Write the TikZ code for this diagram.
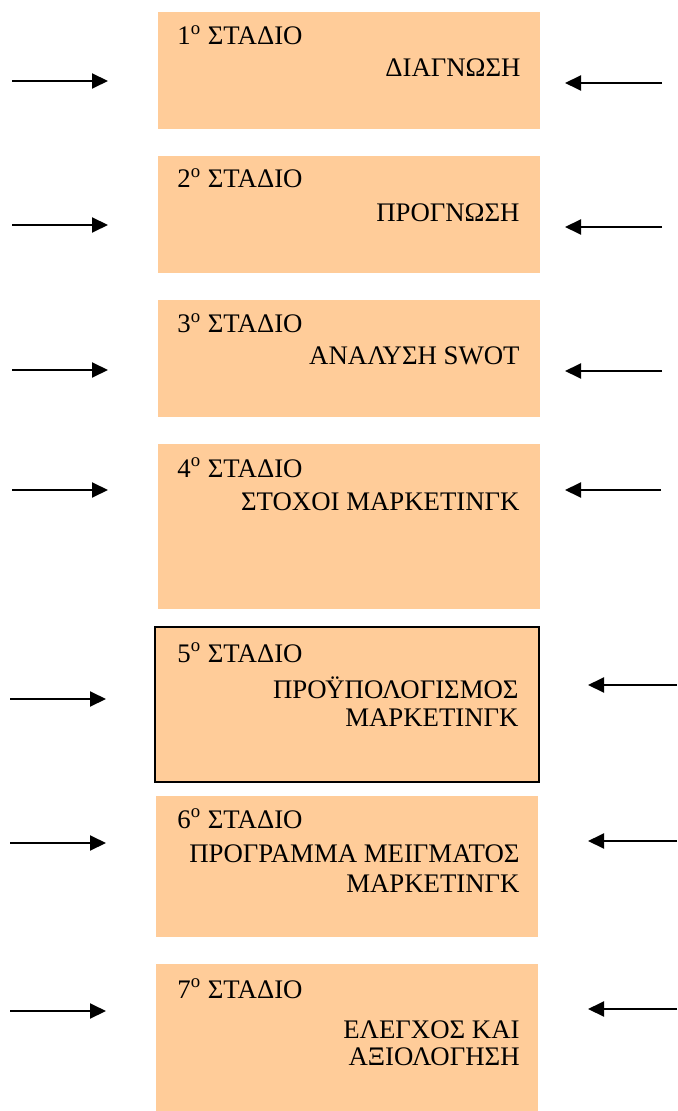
\documentclass[tikz,border=0pt]{standalone}
\usepackage{fontspec}
\setmainfont{Liberation Serif}
\usetikzlibrary{arrows.meta,fit}

\definecolor{peach}{RGB}{255,204,153}

\tikzset{
    stage/.style={fill=peach, inner sep=0pt, outer sep=0pt},
    stagetitle/.style={anchor=base west, inner sep=0pt, font=\fontsize{13.4}{16}\selectfont},
    stagetext/.style={anchor=base east, inner sep=0pt, font=\fontsize{13.4}{16}\selectfont},
}

\begin{document}
\begin{tikzpicture}[x=0.5pt, y=-0.5pt, >={Triangle[length=8pt,width=7.5pt]}]

    \useasboundingbox (0,0) rectangle (677,1111);

    % ---------- stage boxes ----------
    \foreach \i/\xa/\ya/\xb/\yb in {
        1/158/12/540/129,
        2/158/156/540/273,
        3/158/300/540/417,
        4/158/444/540/609,
        6/156/796/538/937,
        7/156/964/538/1111
    }{
        \node[stage, fit={(\xa,\ya) (\xb,\yb)}] (stage\i) {};
    }
    % stage 5 has a frame
    \node[stage, draw=black, line width=1pt, fit={(155,627) (539,782)}] (stage5) {};

    % ---------- stage titles ----------
    \foreach \i/\y in {1/45, 2/188, 3/333, 4/477, 5/662, 6/828, 7/998}{
        \node[stagetitle] (title\i) at (177,\y) {\i\textsuperscript{o} ΣΤΑΔΙΟ};
    }

    % ---------- stage names ----------
    \node[stagetext] (name1)  at (521,77)   {ΔΙΑΓΝΩΣΗ};
    \node[stagetext] (name2)  at (520,222)  {ΠΡΟΓΝΩΣΗ};
    \node[stagetext] (name3)  at (520,365)  {ΑΝΑΛΥΣΗ SWOT};
    \node[stagetext] (name4)  at (520,510)  {ΣΤΟΧΟΙ ΜΑΡΚΕΤΙΝΓΚ};
    \node[stagetext] (name5)  at (519,698)  {ΠΡΟΫΠΟΛΟΓΙΣΜΟΣ};
    \node[stagetext] (name5b) at (519,726)  {ΜΑΡΚΕΤΙΝΓΚ};
    \node[stagetext] (name6)  at (520,862)  {ΠΡΟΓΡΑΜΜΑ ΜΕΙΓΜΑΤΟΣ};
    \node[stagetext] (name6b) at (520,892)  {ΜΑΡΚΕΤΙΝΓΚ};
    \node[stagetext] (name7)  at (520,1038) {ΕΛΕΓΧΟΣ ΚΑΙ};
    \node[stagetext] (name7b) at (520,1065) {ΑΞΙΟΛΟΓΗΣΗ};

    % ---------- arrows on both sides ----------
    \foreach \i/\xl/\xlt/\yl/\xr/\xrt/\yr in {
        1/12/108/81/662/565/83,
        2/12/108/225/662/565/227,
        3/12/108/370/662/565/371,
        4/12/108/490/661/565/490,
        5/10/106/699/677/588/685,
        6/10/106/843/677/588/841,
        7/10/106/1011/677/588/1009
    }{
        \coordinate (inL\i) at (\xl,\yl);
        \coordinate (tipL\i) at (\xlt,\yl);
        \coordinate (inR\i) at (\xr,\yr);
        \coordinate (tipR\i) at (\xrt,\yr);
        \draw[->, line width=1pt] (inL\i) -- (tipL\i);
        \draw[->, line width=1pt] (inR\i) -- (tipR\i);
    }

\end{tikzpicture}
\end{document}
